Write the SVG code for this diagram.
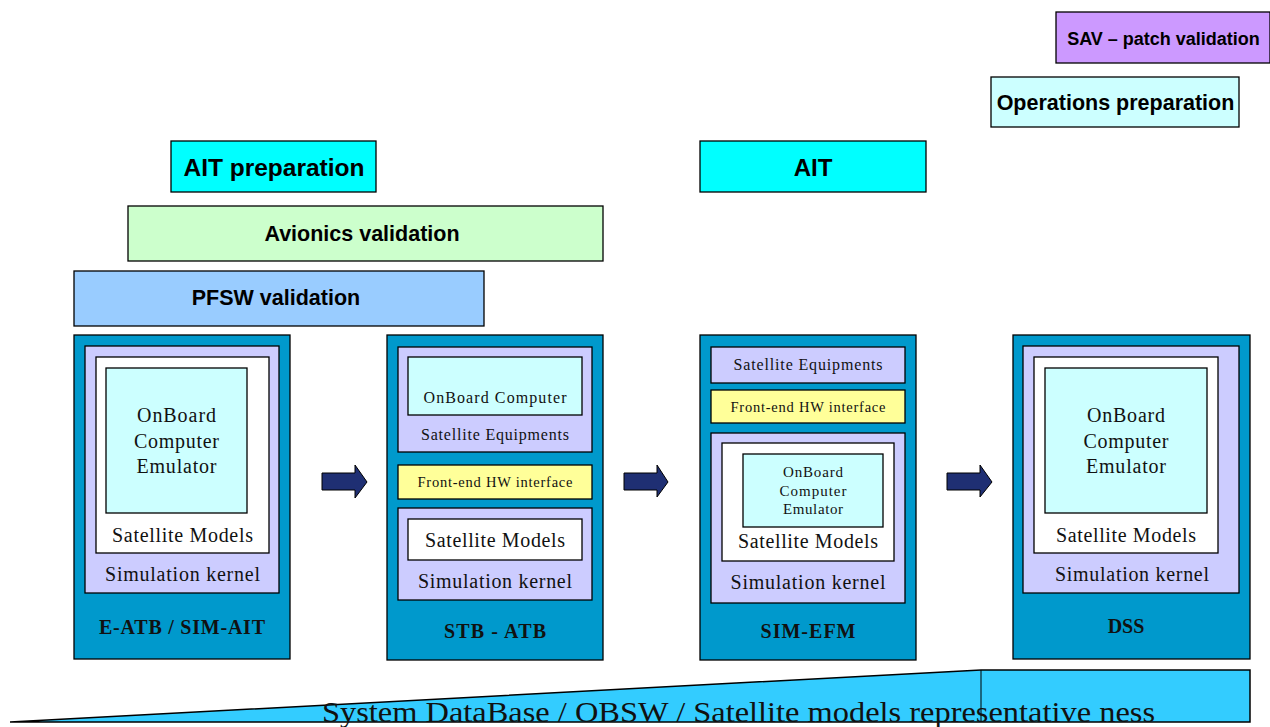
<svg xmlns="http://www.w3.org/2000/svg" width="1270" height="727" viewBox="0 0 1270 727">
<style>
.bx{stroke:#000;stroke-width:1.3}
.ph{font-family:"Liberation Sans",Arial,sans-serif;font-weight:bold;fill:#000;text-anchor:middle}
.t{font-family:"Liberation Serif","Times New Roman",serif;fill:#111;text-anchor:middle}
.tl{font-family:"Liberation Serif","Times New Roman",serif;fill:#111;text-anchor:start}
.tb{font-family:"Liberation Serif","Times New Roman",serif;font-weight:bold;fill:#111;text-anchor:middle}
.outer{fill:#0099CC}
.lav{fill:#CCCCFF}
.wh{fill:#FFFFFF}
.cy{fill:#CCFFFF}
.ye{fill:#FFFF99}
.arr{fill:#1F2F73;stroke:#000;stroke-width:1}
</style>
<rect width="1270" height="727" fill="#fff"/>

<g id="sav">
<rect class="bx" x="1056" y="12" width="214" height="51" fill="#CC99FF"/>
<text class="ph" x="1163.5" y="45" font-size="18">SAV – patch validation</text>
</g>
<g id="ops-prep">
<rect class="bx" x="991" y="77" width="248" height="50" fill="#CCFFFF"/>
<text class="ph" x="1115.5" y="110" font-size="21.5">Operations preparation</text>
</g>
<g id="ait-prep">
<rect class="bx" x="171" y="141" width="205" height="51" fill="#00FFFF"/>
<text class="ph" x="274" y="176" font-size="24.5">AIT preparation</text>
</g>
<g id="ait">
<rect class="bx" x="700" y="141" width="226" height="51" fill="#00FFFF"/>
<text class="ph" x="813" y="176" font-size="24">AIT</text>
</g>
<g id="avionics">
<rect class="bx" x="128" y="206" width="475" height="55" fill="#CCFFCC"/>
<text class="ph" x="362" y="241" font-size="21.5">Avionics validation</text>
</g>
<g id="pfsw">
<rect class="bx" x="74" y="271" width="410" height="55" fill="#99CCFF"/>
<text class="ph" x="276" y="305" font-size="21.5">PFSW validation</text>
</g>

<g id="e-atb">
<rect class="bx outer" x="74" y="335" width="216" height="324"/>
<rect class="bx lav" x="85" y="346" width="194" height="247"/>
<rect class="bx wh" x="96" y="357" width="173" height="196"/>
<rect class="bx cy" x="106" y="368" width="141" height="145"/>
<text class="t" x="176.5" y="422" font-size="20" textLength="79">OnBoard</text>
<text class="t" x="176.5" y="448" font-size="20" textLength="85">Computer</text>
<text class="t" x="176.5" y="473" font-size="20" textLength="80">Emulator</text>
<text class="t" x="182.5" y="542" font-size="20" textLength="141">Satellite Models</text>
<text class="t" x="182.5" y="581" font-size="20" textLength="155">Simulation kernel</text>
<text class="tb" x="182" y="634" font-size="20" textLength="166">E-ATB / SIM-AIT</text>
</g>

<g id="stb-atb">
<rect class="bx outer" x="387" y="335" width="216" height="325"/>
<rect class="bx lav" x="398" y="347" width="194" height="105"/>
<rect class="bx cy" x="408" y="357" width="174" height="58"/>
<text class="t" x="495" y="403" font-size="16" textLength="143">OnBoard Computer</text>
<text class="t" x="495" y="440" font-size="16" textLength="148">Satellite Equipments</text>
<rect class="bx ye" x="398" y="465" width="194" height="34"/>
<text class="t" x="495" y="487" font-size="14.5" textLength="155">Front-end HW interface</text>
<rect class="bx lav" x="398" y="508" width="194" height="92"/>
<rect class="bx wh" x="408" y="519" width="174" height="41"/>
<text class="t" x="495" y="547" font-size="20" textLength="140">Satellite Models</text>
<text class="t" x="495" y="588" font-size="20" textLength="154">Simulation kernel</text>
<text class="tb" x="495" y="638" font-size="20" textLength="102">STB - ATB</text>
</g>

<g id="sim-efm">
<rect class="bx outer" x="700" y="335" width="216" height="325"/>
<rect class="bx lav" x="711" y="347" width="194" height="36"/>
<text class="t" x="808" y="370" font-size="16" textLength="149">Satellite Equipments</text>
<rect class="bx ye" x="711" y="390" width="194" height="33"/>
<text class="t" x="808" y="412" font-size="14.5" textLength="155">Front-end HW interface</text>
<rect class="bx lav" x="711" y="433" width="194" height="170"/>
<rect class="bx wh" x="722" y="443" width="172" height="118"/>
<rect class="bx cy" x="743" y="454" width="140" height="73"/>
<text class="t" x="813" y="477" font-size="15" textLength="60">OnBoard</text>
<text class="t" x="813" y="496" font-size="15" textLength="67">Computer</text>
<text class="t" x="813" y="514" font-size="15" textLength="60">Emulator</text>
<text class="t" x="808" y="548" font-size="20" textLength="140">Satellite Models</text>
<text class="t" x="808" y="589" font-size="20" textLength="155">Simulation kernel</text>
<text class="tb" x="808" y="638" font-size="20" textLength="95">SIM-EFM</text>
</g>

<g id="dss">
<rect class="bx outer" x="1013" y="335" width="237" height="324"/>
<rect class="bx lav" x="1023" y="346" width="216" height="247"/>
<rect class="bx wh" x="1034" y="357" width="184" height="196"/>
<rect class="bx cy" x="1045" y="368" width="162" height="145"/>
<text class="t" x="1126" y="422" font-size="20" textLength="78">OnBoard</text>
<text class="t" x="1126" y="448" font-size="20" textLength="85">Computer</text>
<text class="t" x="1126" y="473" font-size="20" textLength="80">Emulator</text>
<text class="t" x="1126" y="542" font-size="20" textLength="140">Satellite Models</text>
<text class="t" x="1132" y="581" font-size="20" textLength="154">Simulation kernel</text>
<text class="tb" x="1126" y="633" font-size="20">DSS</text>
</g>

<g id="connectors">
<polygon class="arr" points="322,473 355,473 355,465 367,482 355,498 355,490 322,490"/>
<polygon class="arr" points="624,473 657,473 657,465 668,482 657,497 657,490 624,490"/>
<polygon class="arr" points="947,473 980,473 980,465 992,482 980,497 980,490 947,490"/>
</g>

<g id="representativeness">
<polygon points="10,722 981,670 1250,670 1250,722" fill="#33CCFF" stroke="#000" stroke-width="1.5"/>
<line x1="981" y1="670" x2="981" y2="722" stroke="#000" stroke-width="1"/>
<text class="tl" x="322" y="722" font-size="30" textLength="833" lengthAdjust="spacingAndGlyphs">System DataBase / OBSW / Satellite models representative ness</text>
</g>
</svg>
